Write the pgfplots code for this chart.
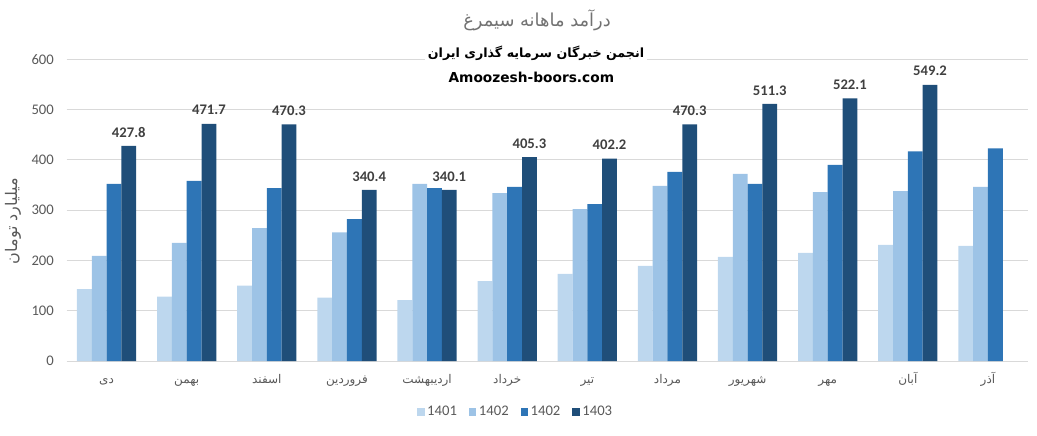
\documentclass[border=0pt]{standalone}
\usepackage{fontspec}
\usepackage{pgfplots}
\pgfplotsset{compat=1.18}
\setmainfont{Carlito}
\newfontfamily\arabicfont[Script=Arabic]{DejaVu Sans}
\newfontfamily\headfont{DejaVu Sans}
\TeXXeTstate=1
\definecolor{cA}{HTML}{BDD7EE}
\definecolor{cB}{HTML}{9DC3E6}
\definecolor{cC}{HTML}{2E75B6}
\definecolor{cD}{HTML}{1F4E79}
\definecolor{txt}{HTML}{595959}
\definecolor{gridc}{HTML}{D9D9D9}
\definecolor{lbl}{HTML}{404040}
\begin{document}
\begin{tikzpicture}
\path[use as bounding box] (0,0) rectangle (777.75pt,326.25pt);
\begin{axis}[
  at={(49.9pt,55.5pt)}, anchor=south west,
  scale only axis, width=721.1pt, height=226.3pt,
  xmin=-0.5, xmax=11.5, ymin=0, ymax=600,
  ybar=0pt, bar width=11.1pt,
  xtick={0,...,11},
  xticklabels={{\beginR دی\endR},{\beginR بهمن\endR},{\beginR اسفند\endR},{\beginR فروردین\endR},{\beginR اردیبهشت\endR},{\beginR خرداد\endR},{\beginR تیر\endR},{\beginR مرداد\endR},{\beginR شهریور\endR},{\beginR مهر\endR},{\beginR آبان\endR},{\beginR آذر\endR}},
  xticklabel style={font=\arabicfont\fontsize{9}{11}\selectfont, text=txt, anchor=base, yshift=-16.5pt},
  ytick={0,100,...,600},
  yticklabel style={font=\fontsize{11}{13}\selectfont, text=txt, xshift=-6pt},
  /pgf/number format/assume math mode=true,
  axis line style={draw=none},
  major tick length=0pt,
  ymajorgrids, major grid style={gridc, line width=0.75pt},
  clip=false,
  legend columns=4,
  legend style={at={(0.4675,-0.169)}, anchor=center, draw=none, fill=none,
    font=\fontsize{11}{13}\selectfont, text=txt,
    /tikz/every even column/.append style={column sep=7pt}},
  legend image code/.code={\fill[#1, draw=none] (0pt,-2.75pt) rectangle (5.5pt,2.75pt);},
]
\addplot[fill=cA, draw=none] coordinates {(0,143) (1,128) (2,150) (3,126) (4,121) (5,159) (6,173) (7,189) (8,207) (9,215) (10,231) (11,229)};
\addplot[fill=cB, draw=none] coordinates {(0,209) (1,235) (2,264) (3,256) (4,352) (5,334) (6,302) (7,348) (8,372) (9,336) (10,338) (11,346)};
\addplot[fill=cC, draw=none] coordinates {(0,352) (1,358) (2,344) (3,282) (4,344) (5,346) (6,312) (7,376) (8,352) (9,390) (10,417) (11,423)};
\addplot[fill=cD, draw=none,
  nodes near coords={\pgfmathprintnumber[fixed,fixed zerofill,precision=1,assume math mode=true]{\pgfplotspointmeta}},
  every node near coord/.append style={font=\bfseries\fontsize{11}{13}\selectfont, text=lbl, yshift=3pt}]
  coordinates {(0,427.8) (1,471.7) (2,470.3) (3,340.4) (4,340.1) (5,405.3) (6,402.2) (7,470.3) (8,511.3) (9,522.1) (10,549.2)};
\legend{1401,1402,1402,1403}
\end{axis}
\node[font=\arabicfont\fontsize{13.4}{15}\selectfont, text=txt!85] at (402.75pt,311.25pt) {\beginR درآمد ماهانه سیمرغ\endR};
\node[font=\arabicfont\bfseries\fontsize{9.5}{12}\selectfont, fill=white, inner sep=2pt] at (402pt,286.5pt) {\beginR انجمن خبرگان سرمایه گذاری ایران\endR};
\node[font=\headfont\bfseries\fontsize{10.3}{12}\selectfont] at (398.5pt,268.5pt) {Amoozesh-boors.com};
\node[font=\arabicfont\fontsize{12}{14}\selectfont, text=txt, rotate=90] at (9.75pt,160.5pt) {\beginR میلیارد تومان\endR};
\end{tikzpicture}
\end{document}
